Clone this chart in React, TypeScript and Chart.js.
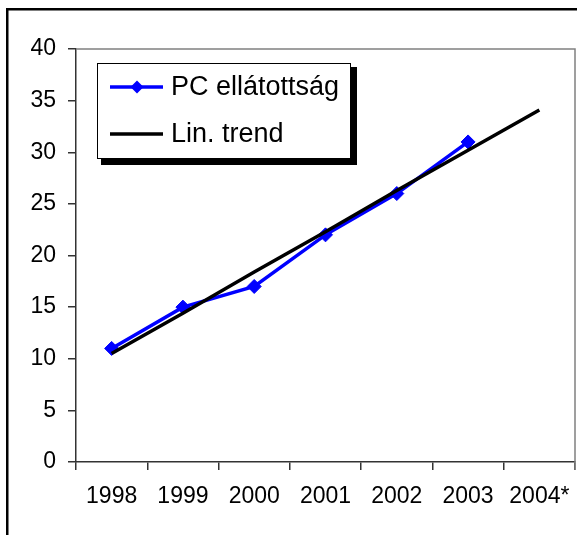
import React, { useEffect, useRef } from 'react';
import { Chart, registerables } from 'chart.js';

Chart.register(...registerables);

const years = ['1998', '1999', '2000', '2001', '2002', '2003', '2004*'];
const pcValues: (number | null)[] = [11, 15, 17, 22, 26, 31, null];
const trendValues = [10.5, 14.4, 18.4, 22.3, 26.3, 30.2, 34.1];
const seriesLabels = ['PC ellátottság', 'Lin. trend'];
const yMin = 0;
const yMax = 40;
const yStep = 5;

const FONT = "'Liberation Sans', Arial, sans-serif";

export default function App() {
  const ref = useRef<HTMLCanvasElement>(null);

  useEffect(() => {
    const canvas = ref.current;
    if (!canvas) return;

    const decor = {
      id: 'decor',
      beforeDraw(chart: any) {
        const ctx = chart.ctx;
        ctx.save();
        ctx.fillStyle = '#fff';
        ctx.fillRect(0, 0, chart.width, chart.height);
        ctx.strokeStyle = '#000';
        ctx.lineWidth = 2.5;
        ctx.strokeRect(7.25, 9.25, 800, 800);
        ctx.restore();
      },
      beforeDatasetsDraw(chart: any) {
        const ctx = chart.ctx;
        const a = chart.chartArea;
        ctx.save();
        ctx.strokeStyle = '#808080';
        ctx.lineWidth = 1.5;
        ctx.beginPath();
        ctx.moveTo(a.left, a.top);
        ctx.lineTo(a.right, a.top);
        ctx.lineTo(a.right, a.bottom + 8);
        ctx.stroke();
        ctx.restore();
      },
      afterDraw(chart: any) {
        const ctx = chart.ctx;
        const bx = 97, by = 63, bw = 254, bh = 96;
        ctx.save();
        ctx.fillStyle = '#000';
        ctx.fillRect(bx + 4, by + 4, bw + 2, bh + 2);
        ctx.fillStyle = '#fff';
        ctx.fillRect(bx, by, bw, bh);
        ctx.strokeStyle = '#000';
        ctx.lineWidth = 1;
        ctx.strokeRect(bx + 0.5, by + 0.5, bw - 1, bh - 1);

        const rows = [87, 134];
        const ds = chart.data.datasets;
        const pc = ds[1];
        ctx.strokeStyle = pc.borderColor;
        ctx.lineWidth = pc.borderWidth;
        ctx.beginPath();
        ctx.moveTo(110, rows[0]);
        ctx.lineTo(163, rows[0]);
        ctx.stroke();
        ctx.fillStyle = pc.backgroundColor;
        ctx.beginPath();
        const r = 6.5;
        ctx.moveTo(137, rows[0] - r);
        ctx.lineTo(137 + r, rows[0]);
        ctx.lineTo(137, rows[0] + r);
        ctx.lineTo(137 - r, rows[0]);
        ctx.closePath();
        ctx.fill();
        const tr = ds[0];
        ctx.strokeStyle = tr.borderColor;
        ctx.lineWidth = tr.borderWidth;
        ctx.beginPath();
        ctx.moveTo(110, rows[1]);
        ctx.lineTo(163, rows[1]);
        ctx.stroke();

        ctx.fillStyle = '#000';
        ctx.font = `27px ${FONT}`;
        ctx.textBaseline = 'middle';
        ctx.textAlign = 'left';
        ctx.fillText(pc.label, 171, rows[0] + 1);
        ctx.fillText(tr.label, 171, rows[1] + 1);
        ctx.restore();
      },
    };

    const chart = new Chart(canvas, {
      type: 'line',
      data: {
        labels: years,
        datasets: [
          {
            label: seriesLabels[1],
            data: trendValues,
            borderColor: '#000000',
            backgroundColor: '#000000',
            borderWidth: 3.5,
            pointRadius: 0,
            tension: 0,
            fill: false,
          },
          {
            label: seriesLabels[0],
            data: pcValues,
            borderColor: '#0000FF',
            backgroundColor: '#0000FF',
            borderWidth: 3.5,
            pointStyle: 'rectRot',
            pointRadius: 7,
            pointBorderWidth: 1,
            pointBackgroundColor: '#0000FF',
            pointBorderColor: '#0000FF',
            tension: 0,
            fill: false,
          },
        ],
      },
      options: {
        responsive: false,
        animation: false,
        devicePixelRatio: 1,
        layout: { autoPadding: false, padding: { top: 49, right: 2, left: 0, bottom: 0 } },
        plugins: {
          legend: { display: false },
          tooltip: { enabled: false },
        },
        scales: {
          x: {
            type: 'category',
            offset: true,
            grid: {
              offset: true,
              drawOnChartArea: false,
              drawTicks: true,
              tickLength: 8,
              color: '#333',
              lineWidth: 1.5,
            },
            border: { color: '#333', width: 1.5 },
            ticks: {
              font: { family: FONT, size: 23 },
              color: '#000',
              padding: 13,
              maxRotation: 0,
              autoSkip: false,
            },
            afterFit(scale: any) {
              scale.height = 73;
              scale.paddingLeft = 0;
              scale.paddingRight = 0;
            },
          },
          y: {
            min: yMin,
            max: yMax,
            ticks: {
              stepSize: yStep,
              font: { family: FONT, size: 23 },
              color: '#000',
              padding: 12,
            },
            grid: {
              drawOnChartArea: false,
              drawTicks: true,
              tickLength: 8,
              color: '#333',
              lineWidth: 1.5,
            },
            border: { color: '#333', width: 1.5 },
            afterFit(scale: any) {
              scale.width = 76;
              scale.paddingTop = 0;
              scale.paddingBottom = 0;
            },
          },
        },
      },
      plugins: [decor],
    } as any);

    return () => chart.destroy();
  }, []);

  return (
    <div style={{ position: 'fixed', left: 0, top: 0, width: 577, height: 535, background: '#fff', overflow: 'hidden' }}>
      <canvas ref={ref} width={577} height={535} style={{ display: 'block', width: 577, height: 535 }} />
    </div>
  );
}
